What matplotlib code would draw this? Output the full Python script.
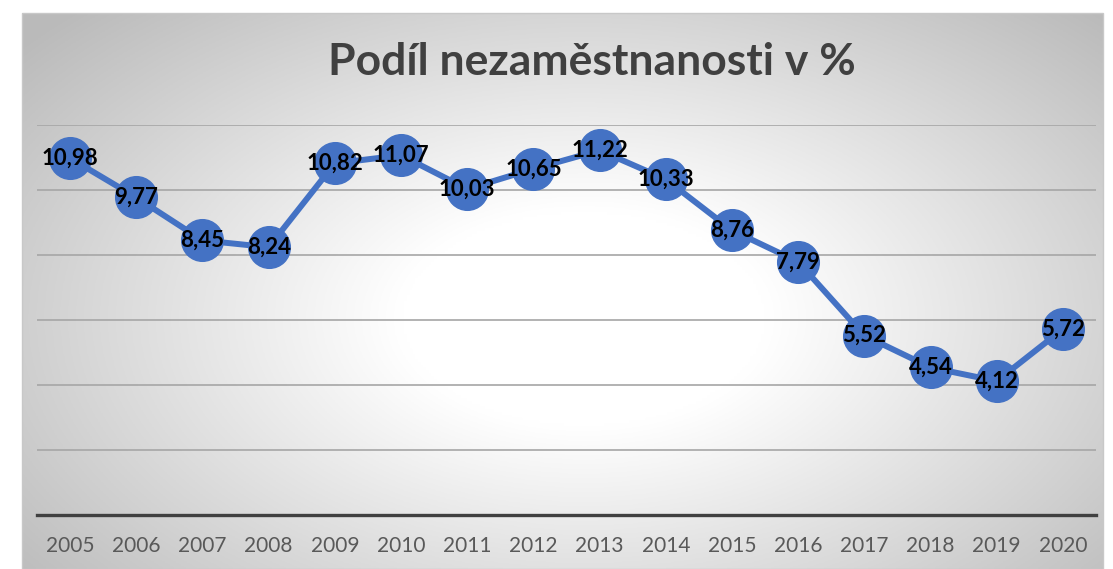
import matplotlib.pyplot as plt
import numpy as np

years = ["2005", "2006", "2007", "2008", "2009", "2010", "2011", "2012",
         "2013", "2014", "2015", "2016", "2017", "2018", "2019", "2020"]
rate = [10.98, 9.77, 8.45, 8.24, 10.82, 11.07, 10.03, 10.65,
        11.22, 10.33, 8.76, 7.79, 5.52, 4.54, 4.12, 5.72]
labels = ["10,98", "9,77", "8,45", "8,24", "10,82", "11,07", "10,03", "10,65",
          "11,22", "10,33", "8,76", "7,79", "5,52", "4,54", "4,12", "5,72"]

W, H = 1113, 569
fig = plt.figure(figsize=(W / 100, H / 100), dpi=100)
fig.patch.set_facecolor("white")

# chart area with radial gradient background
bx0, bx1, by0, by1 = 22, 1103, 13, 569
bg = fig.add_axes([bx0 / W, 1 - by1 / H, (bx1 - bx0) / W, (by1 - by0) / H])
gx, gy = np.meshgrid(np.linspace(0, 1, 400), np.linspace(0, 1, 200))
d = np.sqrt(((gx - 0.52) / 0.52) ** 2 + ((gy - 0.55) / 0.6) ** 2) / 1.3
d = np.clip(d, 0, 1)
shade = 1 - 0.27 * np.clip((d - 0.25) / 0.75, 0, 1)
bg.imshow(np.dstack([shade] * 3), aspect="auto", extent=[0, 1, 0, 1])
bg.axis("off")
fig.add_artist(plt.Rectangle((bx0 / W, 0), (bx1 - bx0) / W, (H - by0) / H,
                             transform=fig.transFigure, fill=False,
                             edgecolor="#c8c8c8", linewidth=1.0))

ax = fig.add_axes([37 / W, (H - 515) / H, 1059 / W, 390 / H])
ax.patch.set_alpha(0)
x = np.arange(len(years))
ax.plot(x, rate, color="#4472C4", linewidth=4.3, marker="o", markersize=30,
        markerfacecolor="#4472C4", markeredgecolor="#4472C4", clip_on=False, zorder=3)
for xi, yi, lab in zip(x, rate, labels):
    ax.text(xi, yi, lab, ha="center", va="center", fontsize=16, fontweight="bold",
            color="black", family="Lato", zorder=4)

ax.set_xlim(-0.5, len(years) - 0.5)
ax.set_ylim(0, 12)
ax.set_yticks([2, 4, 6, 8, 10, 12])
ax.yaxis.grid(True, color="#a6a6a6", linewidth=1.2)
ax.set_axisbelow(True)
ax.tick_params(axis="y", left=False, labelleft=False)
ax.set_xticks(x)
ax.set_xticklabels(years, fontsize=15, color="#595959", family="Lato")
ax.tick_params(axis="x", length=0, pad=15)
for s in ["top", "left", "right"]:
    ax.spines[s].set_visible(False)
ax.spines["bottom"].set_color("#404040")
ax.spines["bottom"].set_linewidth(2.4)

fig.text(592 / W, 1 - 62 / H, "Podíl nezaměstnanosti v %", ha="center", va="center",
         fontsize=32, fontweight="bold", color="#404040", family="Lato")

fig.savefig("out.png", dpi=100)
